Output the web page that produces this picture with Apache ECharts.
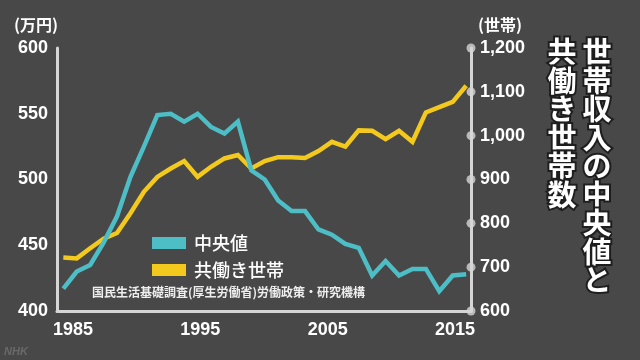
<!DOCTYPE html>
<html>
<head>
<meta charset="utf-8">
<script src="https://cdn.jsdelivr.net/npm/echarts@6/dist/echarts.min.js"></script>
<style>
html,body{margin:0;padding:0;background:#484848;}
#c{width:640px;height:360px;}
</style>
</head>
<body>
<div id="c"></div>
<script>
// ---- data ----
const years = [1985,1986,1987,1988,1989,1990,1991,1992,1993,1994,1995,1996,1997,1998,1999,2000,
               2001,2002,2003,2004,2005,2006,2007,2008,2009,2010,2011,2012,2013,2014,2015];
// 世帯収入の中央値 (万円)
const medianIncome = [417,430,435,452,472,502,525,549,550,544,550,540,535,544,507,500,
                      484,476,476,462,458,451,448,427,438,427,432,432,415,427,428];
// 共働き世帯数 (万世帯)
const dualIncomeHouseholds = [722,720,743,765,778,823,872,906,925,942,906,929,948,956,925,942,
                              951,951,949,965,986,975,1012,1011,992,1011,986,1053,1065,1077,1114];
const rightTicks = [600,700,800,900,1000,1100,1200];
const seriesNames = ['中央値','共働き世帯'];
const titleRight = '世帯収入の中央値と';
const titleLeft = '共働き世帯数';
const sourceText = '国民生活基礎調査(厚生労働省)労働政策・研究機構';

const CYAN = '#4dbdc6';
const YELLOW = '#f3c91d';
const AXIS = '#d6d6d6';
const BG = '#484848';
const X_MIN = 1984.53, X_MAX = 2015.36;

const chart = echarts.init(document.getElementById('c'), null, {renderer:'canvas'});
const numFont = '"Liberation Sans", Arial, sans-serif';
const cjk = '"Noto Sans CJK JP", sans-serif';

chart.setOption({
  backgroundColor: BG,
  animation: false,
  grid: [
    {left:57, right:169, top:48, bottom:49},
    {left:73, right:185, top:48, bottom:49}
  ],
  xAxis: [
    {type:'value', gridIndex:0, min:X_MIN, max:X_MAX,
     axisLine:{show:true, onZero:false, lineStyle:{color:AXIS, width:3}},
     axisTick:{show:false}, axisLabel:{show:false}, splitLine:{show:false}},
    {type:'value', gridIndex:1, min:1985, max:2015, interval:10,
     axisLine:{show:false}, axisTick:{show:false}, splitLine:{show:false},
     axisLabel:{show:true, color:'#ffffff', fontWeight:'bold', fontSize:18, margin:10,
       fontFamily:numFont, formatter: v => String(v)}}
  ],
  yAxis: [
    {type:'value', gridIndex:0, min:400, max:600, interval:50, position:'left',
     axisLine:{show:true, lineStyle:{color:AXIS, width:3}},
     axisTick:{show:false}, splitLine:{show:false},
     axisLabel:{color:'#ffffff', fontWeight:'bold', fontSize:18, margin:9, fontFamily:numFont}},
    {type:'value', gridIndex:0, min:600, max:1200, interval:100, position:'right',
     axisLine:{show:true, lineStyle:{color:AXIS, width:3}},
     axisTick:{show:false}, splitLine:{show:false},
     axisLabel:{color:'#ffffff', fontWeight:'bold', fontSize:18, margin:9, fontFamily:numFont,
       formatter: v => v.toLocaleString('en-US')}},
    {type:'value', gridIndex:1, show:false}
  ],
  legend: {
    data: seriesNames,
    orient:'vertical', left:147, top:229,
    icon:'rect', itemWidth:34, itemHeight:12, itemGap:9,
    textStyle:{color:'#ffffff', fontSize:18, fontFamily:cjk, fontWeight:500, lineHeight:18, padding:[0,0,0,3]}
  },
  series: [
    {name:seriesNames[1], type:'line', xAxisIndex:0, yAxisIndex:1,
     data: years.map((y,i)=>[y, dualIncomeHouseholds[i]]),
     symbol:'none', color:YELLOW, lineStyle:{width:4.5, color:YELLOW, join:'miter'}, z:3},
    {name:seriesNames[0], type:'line', xAxisIndex:0, yAxisIndex:0,
     data: years.map((y,i)=>[y, medianIncome[i]]),
     symbol:'none', color:CYAN, lineStyle:{width:4.5, color:CYAN, join:'miter'}, z:4},
    {type:'scatter', xAxisIndex:0, yAxisIndex:1, silent:true, clip:false,
     data: rightTicks.map(v=>[X_MAX, v]),
     symbol:'circle', symbolSize:9, itemStyle:{color:AXIS}, z:5}
  ],
  graphic: [
    {type:'text', left:14, top:17, style:{text:'(万円)', fill:'#ffffff', font:'bold 16px '+cjk}},
    {type:'text', left:478, top:17, style:{text:'(世帯)', fill:'#ffffff', font:'bold 16px '+cjk}},
    {type:'text', x:597, y:38, style:{text:titleRight.split('').join('\n'), fill:'#ffffff',
      font:'bold 29px '+cjk, lineHeight:28.5, align:'center',
      stroke:'#1e1e1e', lineWidth:4}},
    {type:'text', x:562, y:38, style:{text:titleLeft.split('').join('\n'), fill:'#ffffff',
      font:'bold 29px '+cjk, lineHeight:28.5, align:'center',
      stroke:'#1e1e1e', lineWidth:4}},
    {type:'text', left:92, top:286, style:{text:sourceText, fill:'#eeeeee', font:'bold 12px '+cjk}},
    {type:'text', left:4, top:346, style:{text:'NHK', fill:'#6a6a6a', font:'italic bold 11px '+numFont}}
  ]
});
</script>
</body>
</html>
